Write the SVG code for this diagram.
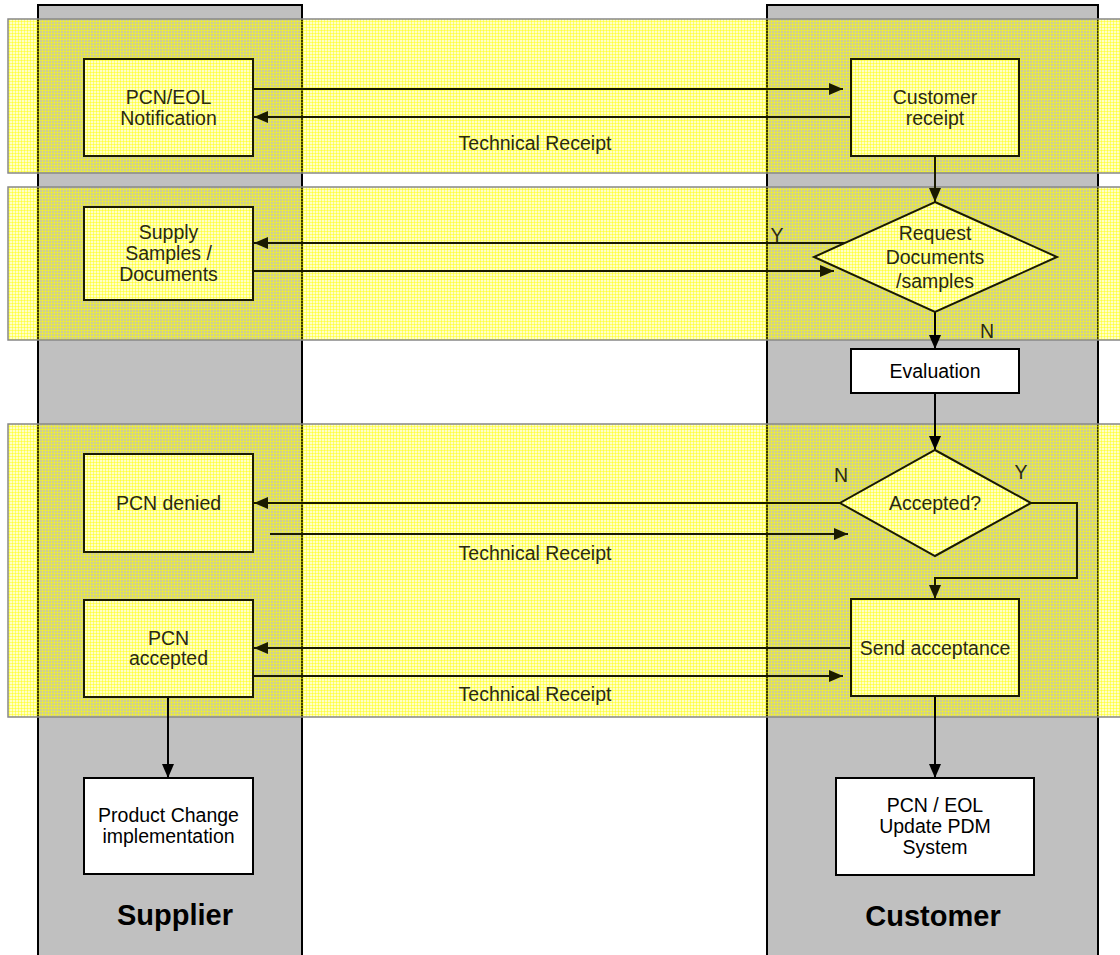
<svg xmlns="http://www.w3.org/2000/svg" width="1120" height="955" viewBox="0 0 1120 955">
<style>
.lane{fill:#C0C0C0;stroke:#000;stroke-width:2}
.box{fill:#fff;stroke:#000;stroke-width:2}
.yb{fill:url(#hatchW);stroke:#1a1a00;stroke-width:2}
.t{font-family:"Liberation Sans",Arial,sans-serif;font-size:19.5px;fill:#000;text-anchor:middle}
.ty{fill:#2a2a10}
.lt{font-family:"Liberation Sans",Arial,sans-serif;font-size:29px;font-weight:bold;fill:#000;text-anchor:middle}
.c{fill:none;stroke:#000;stroke-width:2;marker-end:url(#ah)}
.cy{stroke:#1a1a00;marker-end:url(#ahy)}
.band{fill:url(#hatch);stroke:#888;stroke-width:1.5}
</style>
<defs>
<marker id="ah" markerUnits="userSpaceOnUse" viewBox="0 0 14 12" refX="14" refY="6" markerWidth="14" markerHeight="12" orient="auto">
<path d="M0,0 L14,6 L0,12 z" fill="#000"/>
</marker>
<marker id="ahy" markerUnits="userSpaceOnUse" viewBox="0 0 14 12" refX="14" refY="6" markerWidth="14" markerHeight="12" orient="auto">
<path d="M0,0 L14,6 L0,12 z" fill="#1a1a00"/>
</marker>
<pattern id="hatch" patternUnits="userSpaceOnUse" width="3" height="3">
<rect width="3" height="3" fill="#FFFF00" fill-opacity="0.22"/>
<rect width="3" height="1" fill="#FFFF00" fill-opacity="0.45"/>
<rect width="1" height="3" fill="#FFFF00" fill-opacity="0.45"/>
</pattern>
<pattern id="hatchW" patternUnits="userSpaceOnUse" width="3" height="3">
<rect width="3" height="3" fill="#fff"/>
<rect width="3" height="3" fill="#FFFF00" fill-opacity="0.22"/>
<rect width="3" height="1" fill="#FFFF00" fill-opacity="0.45"/>
<rect width="1" height="3" fill="#FFFF00" fill-opacity="0.45"/>
</pattern>
</defs>
<g id="lane-supplier">
<rect class="lane" x="38" y="5" width="264" height="955"/>
<text class="lt" x="175" y="925">Supplier</text>
</g>
<g id="lane-customer">
<rect class="lane" x="767" y="5" width="331" height="955"/>
<text class="lt" x="933" y="926">Customer</text>
</g>
<g id="bands">
<rect class="band" x="8" y="19" width="1120" height="154"/>
<rect class="band" x="8" y="187" width="1120" height="153"/>
<rect class="band" x="8" y="424" width="1120" height="293"/>
</g>
<g id="connectors">
<path class="c cy" d="M253,89 H843"/>
<path class="c cy" d="M851,117 H254"/>
<path class="c cy" d="M935,156 V202"/>
<path class="c cy" d="M845,243 H254"/>
<path class="c cy" d="M253,271 H834"/>
<path class="c" d="M935,312 V349"/>
<path class="c" d="M935,393 V450"/>
<path class="c cy" d="M840,503 H254"/>
<path class="c cy" d="M270,534 H848"/>
<path class="c cy" d="M1031,503 H1077 V578 H935 V599"/>
<path class="c cy" d="M851,648 H254"/>
<path class="c cy" d="M253,676 H843"/>
<path class="c" d="M168,697 V778"/>
<path class="c" d="M935,696 V778"/>
<text class="t ty" x="535" y="150">Technical Receipt</text>
<text class="t ty" x="535" y="560">Technical Receipt</text>
<text class="t ty" x="535" y="701">Technical Receipt</text>
<text class="t ty" x="777" y="242">Y</text>
<text class="t ty" x="987" y="338">N</text>
<text class="t ty" x="841" y="482">N</text>
<text class="t ty" x="1021" y="479">Y</text>
</g>
<g id="pcn-eol-notification">
<rect class="yb" x="84" y="59" width="169" height="97"/>
<text class="t ty" x="168.5" y="104">PCN/EOL</text>
<text class="t ty" x="168.5" y="125">Notification</text>
</g>
<g id="customer-receipt">
<rect class="yb" x="851" y="59" width="168" height="97"/>
<text class="t ty" x="935" y="104">Customer</text>
<text class="t ty" x="935" y="125">receipt</text>
</g>
<g id="supply-samples">
<rect class="yb" x="84" y="207" width="169" height="93"/>
<text class="t ty" x="168.5" y="239">Supply</text>
<text class="t ty" x="168.5" y="260">Samples /</text>
<text class="t ty" x="168.5" y="281">Documents</text>
</g>
<g id="request-documents">
<polygon class="yb" points="935,202 1057,257 935,312 814,257"/>
<text class="t ty" x="935" y="240">Request</text>
<text class="t ty" x="935" y="264">Documents</text>
<text class="t ty" x="935" y="288">/samples</text>
</g>
<g id="evaluation">
<rect class="box" x="851" y="349" width="168" height="44"/>
<text class="t" x="935" y="378">Evaluation</text>
</g>
<g id="accepted">
<polygon class="yb" points="935,450 1031,503 935,556 840,503"/>
<text class="t ty" x="935" y="510">Accepted?</text>
</g>
<g id="pcn-denied">
<rect class="yb" x="84" y="454" width="169" height="98"/>
<text class="t ty" x="168.5" y="510">PCN denied</text>
</g>
<g id="pcn-accepted">
<rect class="yb" x="84" y="600" width="169" height="97"/>
<text class="t ty" x="168.5" y="645">PCN</text>
<text class="t ty" x="168.5" y="665">accepted</text>
</g>
<g id="send-acceptance">
<rect class="yb" x="851" y="599" width="168" height="97"/>
<text class="t ty" x="935" y="655">Send acceptance</text>
</g>
<g id="product-change">
<rect class="box" x="84" y="778" width="169" height="96"/>
<text class="t" x="168.5" y="822">Product Change</text>
<text class="t" x="168.5" y="843">implementation</text>
</g>
<g id="pdm-update">
<rect class="box" x="836" y="778" width="198" height="97"/>
<text class="t" x="935" y="812">PCN / EOL</text>
<text class="t" x="935" y="833">Update PDM</text>
<text class="t" x="935" y="854">System</text>
</g>
</svg>
